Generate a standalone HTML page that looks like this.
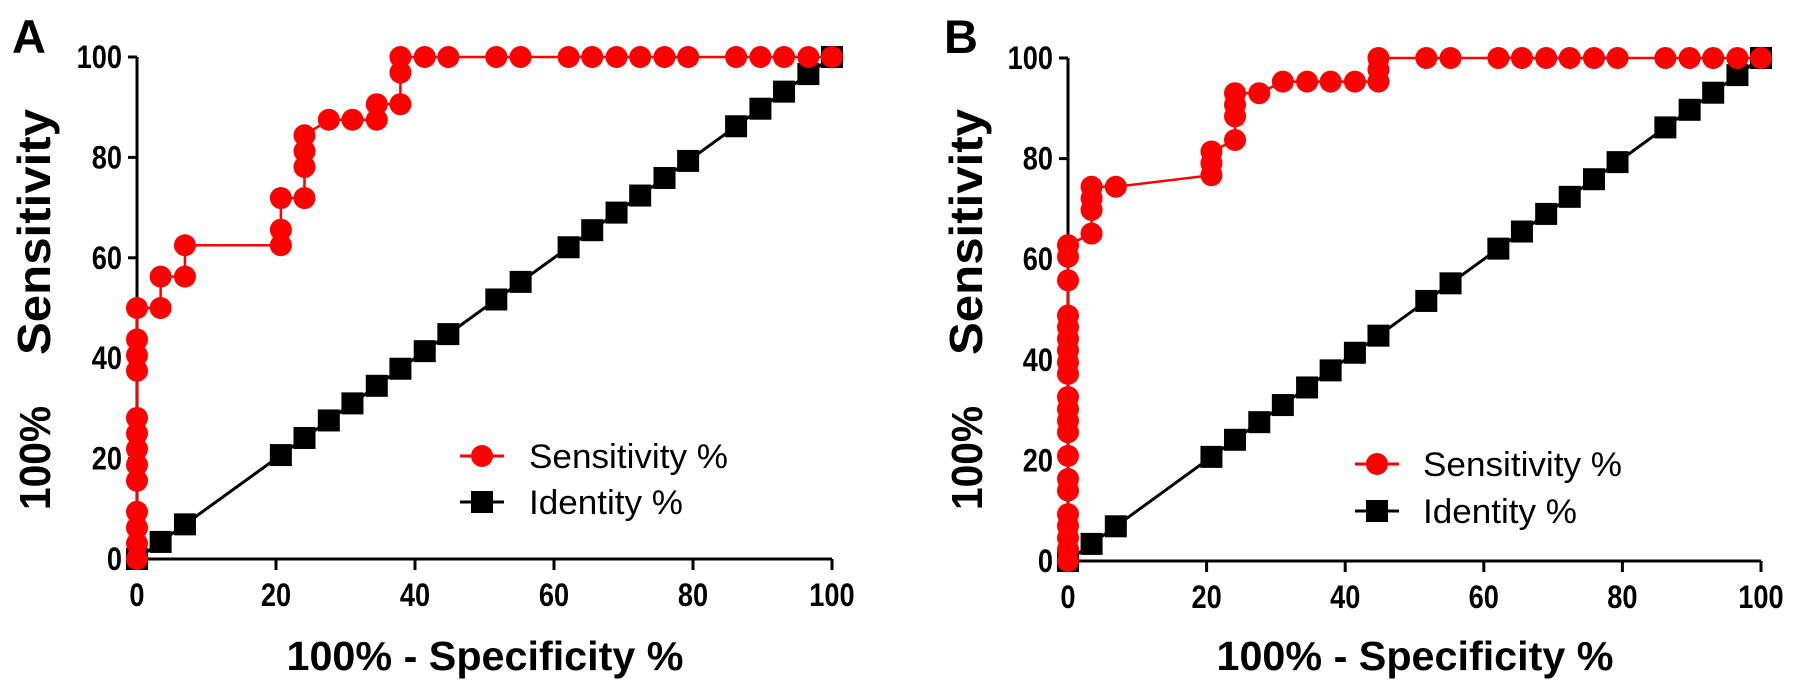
<!DOCTYPE html>
<html><head><meta charset="utf-8"><style>
body{margin:0;background:#fff;}
svg{display:block;font-family:"Liberation Sans",Arial,sans-serif;}
.tick{font-size:32px;font-weight:bold;}
</style></head><body>
<svg id="chart" width="1795" height="692" viewBox="0 0 1795 692" xmlns="http://www.w3.org/2000/svg"></svg>
<script>
const tickValues = [0, 20, 40, 60, 80, 100];
const identityX = [0,3.4,6.9,20.7,24.1,27.6,31,34.5,37.9,41.4,44.8,51.7,55.2,62.1,65.5,69,72.4,75.9,79.3,86.2,89.7,93.1,96.6,100];
const identityY = [0,3.4,6.9,20.7,24.1,27.6,31,34.5,37.9,41.4,44.8,51.7,55.2,62.1,65.5,69,72.4,75.9,79.3,86.2,89.7,93.1,96.6,100];
const sensAX = [0,0,0,0,0,0,0,0,0,0,0,0,0,3.4,3.4,6.9,6.9,20.7,20.7,20.7,24.1,24.1,24.1,24.1,27.6,31,34.5,34.5,37.9,37.9,37.9,41.4,44.8,51.7,55.2,62.1,65.5,69,72.4,75.9,79.3,86.2,89.7,93.1,96.6,100];
const sensAY = [0,3.1,6.25,9.4,15.6,18.75,21.9,25,28.1,37.5,40.6,43.75,50,50,56.25,56.25,62.5,62.5,65.6,71.9,71.9,78.1,81.25,84.4,87.5,87.5,87.5,90.6,90.6,96.9,100,100,100,100,100,100,100,100,100,100,100,100,100,100,100,100];
const sensBX = [0,0,0,0,0,0,0,0,0,0,0,0,0,0,0,0,0,0,0,0,0,3.4,3.4,3.4,3.4,6.9,20.7,20.7,20.7,24.1,24.1,24.1,24.1,27.6,31,34.5,37.9,41.4,44.8,44.8,44.8,51.7,55.2,62.1,65.5,69,72.4,75.9,79.3,86.2,89.7,93.1,96.6,100];
const sensBY = [0,2.3,4.6,7,9.3,14,16.3,20.9,25.6,27.9,30.2,32.6,37.2,39.5,41.9,44.2,46.5,48.8,55.8,60.5,62.8,65.1,69.8,72.1,74.4,74.4,76.7,79.1,81.4,83.7,88.4,90.7,93,93,95.3,95.3,95.3,95.3,95.3,97.7,100,100,100,100,100,100,100,100,100,100,100,100,100,100];
const legendLabels = ["Sensitivity %", "Identity %"];

const NS = "http://www.w3.org/2000/svg";
const svg = document.getElementById('chart');
function mk(tag, attrs, parent, text){
  const e = document.createElementNS(NS, tag);
  for (const k in attrs) e.setAttribute(k, attrs[k]);
  if (text !== undefined) e.textContent = text;
  (parent || svg).appendChild(e);
  return e;
}
const panels = [
  {letter:"A", x0:137, x1:832, y0:559, y1:57, sx:sensAX, sy:sensAY, ytx:34, lg:{lx:460, cx:482, tx:529, y1:456, y2:502}, lx:12},
  {letter:"B", x0:1068, x1:1761, y0:561, y1:58, sx:sensBX, sy:sensBY, ytx:966, lg:{lx:1355, cx:1377, tx:1423, y1:464, y2:511}, lx:944}
];
panels.forEach((p, pi) => {
  const g = mk('g', {});
  
  
  const X = v => p.x0 + (p.x1 - p.x0) * v / 100;
  const Y = v => p.y0 + (p.y1 - p.y0) * v / 100;
  const lt = mk('text', {x:p.lx, y:53, 'font-size':47, 'font-weight':'bold'}, g, p.letter);
  
  
  const ya = mk('line', {x1:p.x0, y1:p.y1, x2:p.x0, y2:p.y0, stroke:'#000', 'stroke-width':3}, g);
  
  
  const xa = mk('line', {x1:p.x0, y1:p.y0, x2:p.x1, y2:p.y0, stroke:'#000', 'stroke-width':3}, g);
  
  
  tickValues.forEach(t => {
    mk('line', {x1:p.x0-9, y1:Y(t), x2:p.x0, y2:Y(t), stroke:'#000', 'stroke-width':3}, g);
    const yl = mk('text', {x:p.x0-15, y:Y(t)+11, 'text-anchor':'end', class:'tick', transform:`translate(${p.x0-15},0) scale(0.85,1) translate(${-(p.x0-15)},0)`}, g, String(t));
    
    
    mk('line', {x1:X(t), y1:p.y0, x2:X(t), y2:p.y0+11, stroke:'#000', 'stroke-width':3}, g);
    const xl = mk('text', {x:X(t), y:p.y0+47, 'text-anchor':'middle', class:'tick', transform:`translate(${X(t)},0) scale(0.85,1) translate(${-X(t)},0)`}, g, String(t));
    
    
  });
  const cx = (p.x0 + p.x1) / 2;
  const xt = mk('text', {x:cx-198, y:670, 'font-size':41, 'font-weight':'bold', textLength:397, lengthAdjust:'spacingAndGlyphs'}, g, '100% - Specificity %');
  
  
  const yt1 = mk('text', {x:0, y:0, 'font-size':44, 'font-weight':'bold', textLength:104, lengthAdjust:'spacingAndGlyphs', transform:`translate(${p.ytx+16},510) rotate(-90)`}, g, '100%');
  
  
  const yt2 = mk('text', {x:0, y:0, 'font-size':46, 'font-weight':'bold', textLength:246, lengthAdjust:'spacingAndGlyphs', transform:`translate(${p.ytx+16},355) rotate(-90)`}, g, 'Sensitivity');
  
  
  const idPts = identityX.map((v,i) => X(v)+','+Y(identityY[i])).join(' ');
  const idl = mk('polyline', {points:idPts, fill:'none', stroke:'#000', 'stroke-width':3}, g);
  
  
  identityX.forEach((v,i) => {
    const s = mk('rect', {x:X(v)-11, y:Y(identityY[i])-11, width:22, height:22, fill:'#000'}, g);
    
    
  });
  const sPts = p.sx.map((v,i) => X(v)+','+Y(p.sy[i])).join(' ');
  const sl = mk('polyline', {points:sPts, fill:'none', stroke:'#ff0000', 'stroke-width':2.5}, g);
  
  
  p.sx.forEach((v,i) => {
    const c = mk('circle', {cx:X(v), cy:Y(p.sy[i]), r:11, fill:'#ff0000'}, g);
    
    
  });
  const L = p.lg;
  const le1 = mk('g', {}, g);
  
  
  mk('line', {x1:L.lx, y1:L.y1, x2:L.lx+44, y2:L.y1, stroke:'#ff0000', 'stroke-width':3}, le1);
  mk('circle', {cx:L.cx, cy:L.y1, r:11, fill:'#ff0000'}, le1);
  mk('text', {x:L.tx, y:L.y1+12, 'font-size':34, textLength:199, lengthAdjust:'spacingAndGlyphs'}, le1, legendLabels[0]);
  const le2 = mk('g', {}, g);
  
  
  mk('line', {x1:L.lx, y1:L.y2, x2:L.lx+44, y2:L.y2, stroke:'#000', 'stroke-width':3}, le2);
  mk('rect', {x:L.cx-11, y:L.y2-11, width:22, height:22, fill:'#000'}, le2);
  mk('text', {x:L.tx, y:L.y2+12, 'font-size':34, textLength:154, lengthAdjust:'spacingAndGlyphs'}, le2, legendLabels[1]);
});
</script>
</body></html>
